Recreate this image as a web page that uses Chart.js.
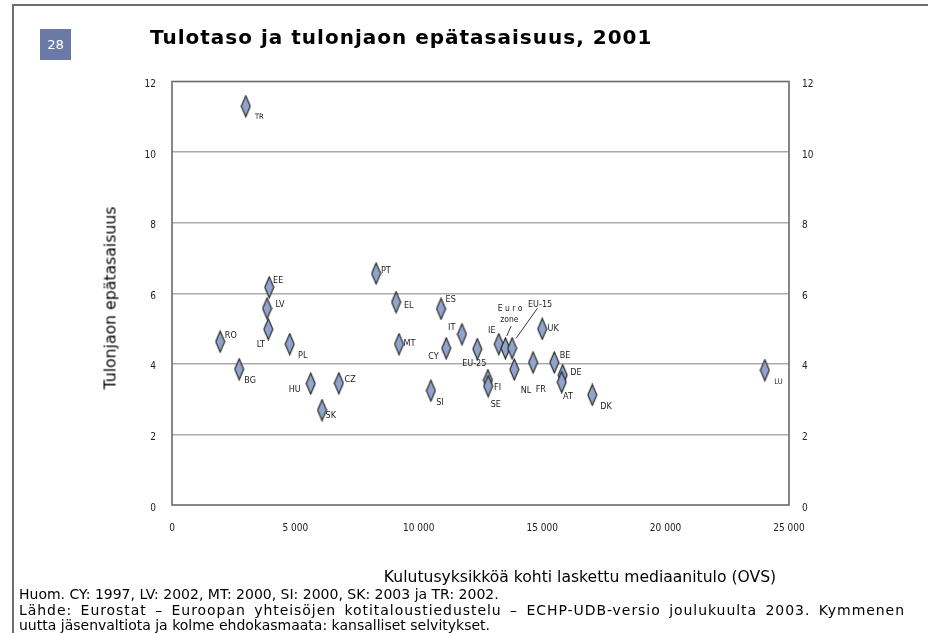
<!DOCTYPE html>
<html>
<head>
<meta charset="utf-8">
<script src="https://cdn.jsdelivr.net/npm/chart.js@4/dist/chart.umd.min.js"></script>
<style>
html,body{margin:0;padding:0;background:#fff;}
#wrap{position:relative;width:928px;height:633px;overflow:hidden;background:#fff;}
#chart{position:absolute;left:0;top:0;}
.frameTop{position:absolute;left:12px;top:4px;width:916px;height:2px;background:#6e6e6e;}
.frameLeft{position:absolute;left:12px;top:4px;width:2px;height:629px;background:#6e6e6e;}
.badge{position:absolute;left:40px;top:29px;width:31px;height:31px;background:#6b79a7;color:#fff;font:13px "DejaVu Sans",sans-serif;line-height:31px;text-align:center;}
.title{position:absolute;left:150px;top:37px;transform:translateY(-50%);font:bold 20px "DejaVu Sans",sans-serif;letter-spacing:1px;color:#000;white-space:nowrap;}
.ytitle{position:absolute;left:110px;top:298px;transform:translate(-50%,-50%) rotate(-90deg);font:15.7px "DejaVu Sans",sans-serif;color:#000;white-space:nowrap;}
.xtitle{position:absolute;left:580px;top:577px;transform:translate(-50%,-50%);font:15.6px "DejaVu Sans",sans-serif;color:#000;white-space:nowrap;}
.note{position:absolute;left:19px;font:14px "DejaVu Sans",sans-serif;color:#000;white-space:nowrap;transform:translateY(-50%);}
.just{width:886px;letter-spacing:0.95px;text-align:justify;text-align-last:justify;white-space:normal;}
</style>
</head>
<body>
<div id="wrap">
  <canvas id="chart" width="928" height="633"></canvas>
  <div class="frameTop"></div>
  <div class="frameLeft"></div>
  <div class="badge">28</div>
  <div class="title">Tulotaso ja tulonjaon epätasaisuus, 2001</div>
  <div class="ytitle">Tulonjaon epätasaisuus</div>
  <div class="xtitle">Kulutusyksikköä kohti laskettu mediaanitulo (OVS)</div>
  <div class="note" style="top:594px">Huom. CY: 1997, LV: 2002, MT: 2000, SI: 2000, SK: 2003 ja TR: 2002.</div>
  <div class="note just" style="top:610px">Lähde: Eurostat – Euroopan yhteisöjen kotitaloustiedustelu – ECHP-UDB-versio joulukuulta 2003. Kymmenen</div>
  <div class="note" style="top:625px">uutta jäsenvaltiota ja kolme ehdokasmaata: kansalliset selvitykset.</div>
</div>
<script>
// ---- data ----
const countries = ['TR','RO','BG','EE','LV','LT','PL','HU','SK','CZ','PT','EL','MT','SI','ES','CY','IT','EU-25','FI','SE','IE','Euro zone','EU-15','NL','UK','FR','BE','DE','AT','DK','LU'];
const medianIncome = [2990,1950,2720,3940,3850,3900,4770,5620,6080,6760,8270,9080,9200,10490,10900,11110,11750,12370,12800,12810,13240,13510,13780,13870,15000,14630,15490,15830,15790,17030,24020];
const inequality = [11.3,4.63,3.85,6.17,5.57,4.98,4.56,3.44,2.69,3.45,6.56,5.75,4.56,3.24,5.56,4.44,4.84,4.42,3.54,3.37,4.56,4.44,4.44,3.84,4.99,4.04,4.04,3.68,3.48,3.12,3.82];
const xTickValues = [0,5000,10000,15000,20000,25000];
const yTickValues = [0,2,4,6,8,10,12];

// ---- label layout (pixel offsets of label centre from the marker) ----
const labelOffsets = {
  'TR':[13.6,11,'s'],'RO':[10.7,-6],'BG':[11,12],'EE':[9,-6.6],'LV':[13,-3.3],'LT':[-7.3,15],
  'PL':[13,11.7],'HU':[-16,5.6],'SK':[8.7,5.7],'CZ':[11.3,-4],'PT':[9.7,-2.6],'EL':[12.7,4],
  'MT':[10.3,0],'SI':[9,11.6],'ES':[9.7,-9.4],'CY':[-12.6,8.4],'IT':[-10.3,-7],'EU-25':[-3,15],
  'FI':[9.7,7.7],'SE':[7.7,19],'IE':[-7,-13],'NL':[11.7,20.7],'UK':[11,-0.7],'FR':[7.7,27.7],
  'BE':[10.7,-6.6],'DE':[13.3,-2.3],'AT':[6.3,14],'DK':[13.7,11.7],'LU':[13.6,11.7,'s'],
  'EU-15':[28,-44]
};

function makeDiamond(w,h){
  const c=document.createElement('canvas');
  c.width=w+2; c.height=h+2;
  const g=c.getContext('2d');
  g.beginPath();
  g.moveTo(c.width/2,1); g.lineTo(c.width-1,c.height/2);
  g.lineTo(c.width/2,c.height-1); g.lineTo(1,c.height/2);
  g.closePath();
  g.fillStyle='#91a5cc'; g.fill();
  g.strokeStyle='#1e1e1e'; g.lineWidth=1.1; g.stroke();
  return c;
}
const diamond = makeDiamond(9,21);

const fmt = v => String(v).replace(/\B(?=(\d{3})+(?!\d))/g,' ');
const tickFont = {family:'"Liberation Sans Narrow","DejaVu Sans Condensed",sans-serif', size:10};
const labelFamily = '"Liberation Sans Narrow","DejaVu Sans Condensed",sans-serif';

const points = medianIncome.map((x,i)=>({x:x,y:inequality[i]}));

const annot = {
  id:'annot',
  beforeDatasetsDraw(chart){
    const {ctx, chartArea:a} = chart;
    ctx.save();
    ctx.strokeStyle='#6a6a6a'; ctx.lineWidth=1.6;
    ctx.strokeRect(a.left,a.top,a.right-a.left,a.bottom-a.top);
    ctx.restore();
  },
  afterDatasetsDraw(chart){
    const {ctx, scales:{x,y}} = chart;
    ctx.save();
    ctx.fillStyle='#222'; ctx.strokeStyle='#222'; ctx.lineWidth=0.9;
    ctx.textAlign='center'; ctx.textBaseline='middle';
    countries.forEach((c,i)=>{
      const px = x.getPixelForValue(medianIncome[i]);
      const py = y.getPixelForValue(inequality[i]);
      if(c==='Euro zone'){
        ctx.font='8.5px '+labelFamily;
        ctx.fillText('E u r o', px+4.7, py-40);
        ctx.fillText('zone', px+4, py-29);
        ctx.beginPath(); ctx.moveTo(px+5.7,py-22.3); ctx.lineTo(px+1.4,py-12.3); ctx.stroke();
        return;
      }
      const o = labelOffsets[c]; if(!o) return;
      ctx.font=(o[2]==='s'?'7.5px ':'9px ')+labelFamily;
      ctx.fillText(c, px+o[0], py+o[1]);
      if(c==='EU-15'){
        ctx.beginPath(); ctx.moveTo(px+25.3,py-40); ctx.lineTo(px+4,py-10); ctx.stroke();
      }
    });
    ctx.restore();
  }
};

new Chart(document.getElementById('chart'), {
  type:'scatter',
  data:{datasets:[{
    label:'Maat',
    data:points,
    pointStyle:diamond,
    pointRadius:10,
    pointHoverRadius:10
  }]},
  options:{
    responsive:false,
    devicePixelRatio:1,
    animation:false,
    events:[],
    layout:{padding:{top:81.5,left:0,right:0,bottom:0}},
    plugins:{legend:{display:false},tooltip:{enabled:false},title:{display:false}},
    scales:{
      x:{
        type:'linear', position:'bottom', min:0, max:25000,
        afterBuildTicks: s => { s.ticks = xTickValues.map(v=>({value:v})); },
        afterFit: s => { s.height = 128; },
        grid:{display:false, drawTicks:false},
        border:{display:false},
        ticks:{font:tickFont, color:'#222', padding:17, maxRotation:0, autoSkip:false, callback:v=>fmt(v)}
      },
      y:{
        type:'linear', position:'left', min:0, max:12,
        afterBuildTicks: s => { s.ticks = yTickValues.map(v=>({value:v})); },
        afterFit: s => { s.width = 172; },
        grid:{drawTicks:false, lineWidth:1.5, color: c => (c.tick && (c.tick.value===0 || c.tick.value===12)) ? 'rgba(0,0,0,0)' : '#ababab'},
        border:{display:false},
        ticks:{font:tickFont, color:'#222', padding:16, labelOffset:3, autoSkip:false}
      },
      y2:{
        type:'linear', position:'right', min:0, max:12,
        afterBuildTicks: s => { s.ticks = yTickValues.map(v=>({value:v})); },
        afterFit: s => { s.width = 139; },
        grid:{display:false, drawTicks:false},
        border:{display:false},
        ticks:{font:tickFont, color:'#222', padding:13, labelOffset:3, autoSkip:false}
      }
    }
  },
  plugins:[annot]
});
</script>
</body>
</html>
